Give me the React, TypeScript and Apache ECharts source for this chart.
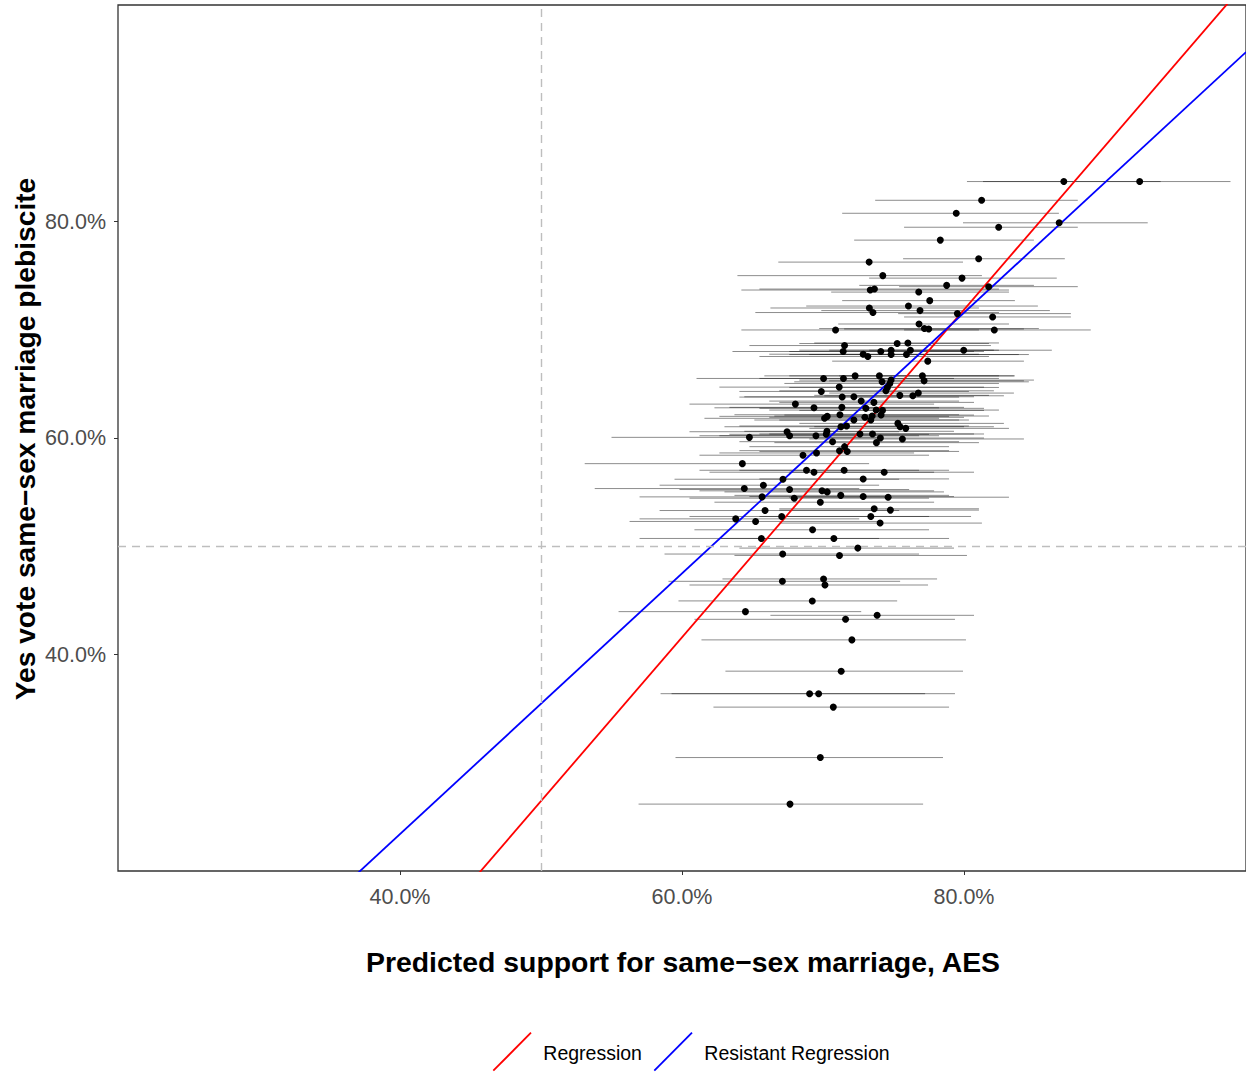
import React, { useEffect, useRef } from "react";
import * as echarts from "echarts";

// Predicted support (AES) point estimates, %
const pointX = [87.08, 92.46, 81.25, 79.45, 82.46, 86.75, 78.32, 73.27, 81.04, 74.24, 79.86, 78.77, 81.75, 73.35, 73.65, 76.79, 77.57, 76.06, 73.29, 73.54, 76.88, 79.53, 82.03, 70.89, 76.81, 77.19, 77.5, 82.15, 76.02, 75.26, 71.53, 71.43, 72.85, 73.18, 74.1, 74.83, 74.83, 75.92, 76.2, 79.98, 77.43, 70.04, 71.45, 72.28, 74.0, 74.19, 74.83, 74.74, 77.05, 77.17, 69.88, 71.15, 74.57, 74.46, 71.36, 72.19, 75.45, 76.37, 76.76, 72.71, 68.04, 69.36, 71.34, 73.04, 73.61, 73.77, 74.22, 74.12, 70.3, 70.11, 71.2, 72.97, 73.49, 72.19, 73.39, 75.31, 75.47, 75.87, 71.67, 71.27, 72.62, 73.51, 74.07, 73.79, 75.63, 64.78, 67.45, 67.63, 69.5, 70.23, 70.28, 70.68, 68.58, 69.54, 71.17, 71.53, 71.72, 64.28, 68.83, 69.36, 71.5, 74.34, 72.85, 67.16, 65.77, 64.42, 65.68, 67.63, 67.96, 69.93, 70.3, 71.26, 72.85, 74.62, 69.81, 65.89, 63.81, 65.22, 67.07, 69.26, 70.77, 65.63, 67.14, 73.63, 74.78, 73.39, 74.05, 72.47, 71.17, 67.12, 70.04, 70.14, 69.24, 64.5, 73.84, 71.6, 72.05, 71.29, 69.05, 69.69, 70.73, 69.81, 67.66];
// Yes vote in plebiscite, %
const pointY = [83.69, 83.69, 81.96, 80.76, 79.47, 79.88, 78.28, 76.25, 76.56, 75.0, 74.77, 74.1, 73.98, 73.67, 73.76, 73.48, 72.69, 72.19, 72.01, 71.59, 71.77, 71.49, 71.18, 69.98, 70.53, 70.11, 70.07, 69.98, 68.78, 68.73, 68.54, 67.99, 67.74, 67.53, 67.99, 68.11, 67.71, 67.71, 68.11, 68.11, 67.1, 65.5, 65.5, 65.74, 65.74, 65.19, 65.35, 65.04, 65.74, 65.28, 64.3, 64.7, 64.67, 64.36, 63.78, 63.81, 63.94, 63.9, 64.15, 63.41, 63.13, 62.79, 62.83, 62.74, 63.29, 62.58, 62.55, 62.12, 62.0, 61.82, 62.15, 61.91, 62.03, 61.66, 61.66, 61.35, 61.04, 60.89, 61.11, 61.04, 60.37, 60.37, 60.0, 59.57, 59.91, 60.06, 60.58, 60.21, 60.21, 60.34, 60.62, 59.66, 58.41, 58.62, 58.83, 59.2, 58.76, 57.63, 57.02, 56.84, 57.02, 56.84, 56.22, 56.19, 55.64, 55.33, 54.56, 55.24, 54.44, 55.12, 55.02, 54.7, 54.59, 54.53, 54.07, 53.3, 52.53, 52.29, 52.75, 51.52, 50.72, 50.72, 49.28, 53.46, 53.34, 52.75, 52.14, 49.83, 49.15, 46.76, 46.98, 46.42, 44.95, 43.96, 43.62, 43.25, 41.35, 38.46, 36.38, 36.38, 35.14, 30.48, 26.18];
// Lower and upper interval bounds of the prediction, %
const lowerCI = [80.21, 81.35, 73.7, 71.36, 75.75, 79.93, 72.21, 66.83, 75.68, 63.93, 73.27, 72.57, 75.4, 64.21, 65.49, 70.58, 71.36, 68.81, 66.27, 65.2, 69.88, 75.33, 75.75, 64.21, 71.08, 69.73, 71.5, 75.75, 69.38, 68.32, 64.78, 63.58, 66.19, 65.49, 67.61, 68.32, 67.61, 69.03, 70.44, 73.27, 70.65, 61.03, 65.49, 65.84, 67.61, 67.96, 68.32, 67.26, 71.15, 70.44, 64.07, 62.65, 67.61, 66.9, 64.07, 64.42, 69.38, 70.09, 70.44, 66.19, 60.53, 62.3, 63.36, 65.49, 66.9, 66.19, 68.32, 67.26, 62.65, 61.59, 63.72, 66.19, 66.55, 65.13, 66.9, 68.32, 69.38, 69.03, 64.07, 63.01, 65.49, 66.19, 67.61, 66.55, 69.03, 55.0, 60.53, 61.24, 62.65, 63.36, 64.42, 64.07, 61.24, 62.65, 64.07, 64.78, 65.49, 53.1, 61.24, 61.95, 64.07, 67.61, 65.49, 59.47, 58.41, 53.81, 56.99, 59.82, 60.53, 61.24, 63.01, 63.72, 64.78, 67.61, 62.3, 58.41, 56.99, 56.28, 60.53, 60.88, 62.65, 56.99, 58.76, 66.9, 66.9, 65.49, 66.9, 64.07, 63.72, 59.04, 62.87, 60.53, 59.75, 55.5, 66.27, 60.88, 61.38, 63.08, 58.48, 59.26, 62.23, 59.54, 56.92];
const upperCI = [93.95, 98.9, 88.07, 86.73, 88.07, 93.03, 84.96, 79.93, 87.15, 81.27, 86.58, 84.96, 88.07, 83.19, 82.48, 83.19, 83.61, 85.24, 81.06, 82.48, 86.09, 87.58, 87.58, 81.06, 83.19, 85.31, 84.25, 88.99, 82.48, 81.77, 81.91, 80.71, 81.06, 81.77, 81.42, 82.48, 83.89, 84.6, 82.12, 86.23, 84.25, 79.29, 82.48, 82.48, 83.54, 84.6, 84.96, 82.48, 83.61, 84.25, 80.35, 81.42, 82.48, 82.12, 79.65, 80.71, 81.77, 82.83, 83.54, 79.65, 77.88, 78.23, 80.0, 81.42, 80.71, 82.48, 81.42, 80.71, 78.94, 78.23, 79.65, 80.0, 81.77, 80.35, 79.65, 82.83, 82.12, 83.19, 80.35, 80.0, 81.42, 80.71, 81.42, 81.06, 84.25, 73.98, 75.4, 76.81, 78.23, 77.52, 79.29, 79.65, 77.52, 76.46, 78.94, 78.94, 79.65, 73.27, 76.81, 77.88, 78.94, 80.71, 78.94, 75.4, 73.98, 72.57, 74.69, 76.11, 77.52, 77.88, 78.58, 78.94, 79.29, 83.19, 77.88, 75.4, 72.57, 73.98, 77.52, 77.52, 78.94, 73.98, 76.81, 81.06, 81.06, 80.5, 81.27, 79.29, 80.21, 75.47, 78.09, 77.45, 75.26, 72.71, 80.71, 79.36, 80.14, 79.93, 79.36, 77.24, 78.94, 78.51, 77.1];

// Fitted lines: [intercept, slope]
const regressionFit = [-49.19, 1.513];
const resistantFit = [-24.75, 1.204];
const lineNames = ["Regression", "Resistant Regression"];
const lineColors = ["#FF0000", "#0000FF"];
const axisMin = 20;
const axisMax = 100;
const tickValues = [40, 60, 80];
const threshold = 50;

const FONT = "'Liberation Sans', Arial, Helvetica, sans-serif";

export default function App() {
  const ref = useRef<HTMLDivElement>(null);
  useEffect(() => {
    if (!ref.current) return;
    const chart = echarts.init(ref.current, null, { renderer: "svg" });
    const pts = pointX.map((x, i) => [x, pointY[i], lowerCI[i], upperCI[i]]);
    const fitLine = (f: number[]) => [
      [axisMin, f[0] + f[1] * axisMin],
      [axisMax, f[0] + f[1] * axisMax],
    ];
    const fmt = (v: number) => v.toFixed(1) + "%";
    const axisCommon = {
      type: "value",
      min: axisMin,
      max: axisMax,
      interval: 20,
      axisLine: { show: false },
      splitLine: { show: false },
      axisTick: {
        show: true,
        length: 4,
        customValues: tickValues,
        lineStyle: { color: "#333333", width: 1 },
      },
      axisLabel: {
        show: true,
        customValues: tickValues,
        formatter: fmt,
        color: "#4D4D4D",
        fontSize: 21.5,
        fontFamily: FONT,
        margin: 15,
      },
    };
    chart.setOption({
      animation: false,
      backgroundColor: "#ffffff",
      grid: {
        left: 118,
        top: 5,
        right: -2,
        bottom: 202,
        show: true,
        borderColor: "#333333",
        borderWidth: 1.3,
        backgroundColor: "transparent",
      },
      xAxis: { ...axisCommon },
      yAxis: { ...axisCommon, axisLabel: { ...axisCommon.axisLabel, margin: 12 } },
      series: [
        {
          type: "custom",
          name: "intervals",
          data: pts,
          encode: { x: [2, 3], y: 1 },
          clip: true,
          silent: true,
          z: 2,
          renderItem: (params: any, api: any) => {
            const y = api.value(1);
            const p1 = api.coord([api.value(2), y]);
            const p2 = api.coord([api.value(3), y]);
            return {
              type: "line",
              shape: { x1: p1[0], y1: p1[1], x2: p2[0], y2: p2[1] },
              style: { stroke: "rgba(0,0,0,0.45)", lineWidth: 1 },
            };
          },
          markLine: {
            silent: true,
            symbol: "none",
            label: { show: false },
            lineStyle: { color: "#BEBEBE", type: [8, 6], width: 1.4 },
            data: [{ xAxis: threshold }, { yAxis: threshold }],
          },
        },
        {
          type: "line",
          name: lineNames[0],
          data: fitLine(regressionFit),
          showSymbol: false,
          symbol: "none",
          clip: true,
          lineStyle: { color: lineColors[0], width: 1.8 },
          z: 4,
        },
        {
          type: "line",
          name: lineNames[1],
          data: fitLine(resistantFit),
          showSymbol: false,
          symbol: "none",
          clip: true,
          lineStyle: { color: lineColors[1], width: 1.8 },
          z: 4,
        },
        {
          type: "scatter",
          name: "points",
          data: pts.map((p) => [p[0], p[1]]),
          symbol: "circle",
          symbolSize: 7,
          itemStyle: { color: "#000000", opacity: 1 },
          z: 5,
        },
      ],
      graphic: [
        {
          type: "text",
          x: 683,
          y: 962,
          style: {
            text: "Predicted support for same\u2212sex marriage, AES",
            fill: "#000000",
            font: `bold 28.4px ${FONT}`,
            textAlign: "center",
            textVerticalAlign: "middle",
          },
        },
        {
          type: "text",
          x: 25,
          y: 439,
          rotation: Math.PI / 2,
          style: {
            text: "Yes vote same\u2212sex marriage plebiscite",
            fill: "#000000",
            font: `bold 28.2px ${FONT}`,
            textAlign: "center",
            textVerticalAlign: "middle",
          },
        },
        {
          type: "line",
          shape: { x1: 493.3, y1: 1070.7, x2: 531, y2: 1032.7 },
          style: { stroke: lineColors[0], lineWidth: 1.8 },
        },
        {
          type: "text",
          x: 543.3,
          y: 1053,
          style: {
            text: lineNames[0],
            fill: "#000000",
            font: `19.5px ${FONT}`,
            textAlign: "left",
            textVerticalAlign: "middle",
          },
        },
        {
          type: "line",
          shape: { x1: 654.3, y1: 1070.7, x2: 692, y2: 1032.7 },
          style: { stroke: lineColors[1], lineWidth: 1.8 },
        },
        {
          type: "text",
          x: 704.3,
          y: 1053,
          style: {
            text: lineNames[1],
            fill: "#000000",
            font: `19.5px ${FONT}`,
            textAlign: "left",
            textVerticalAlign: "middle",
          },
        },
      ],
    });
    return () => chart.dispose();
  }, []);
  return (
    <div
      ref={ref}
      style={{ position: "absolute", left: 0, top: 0, width: 1246, height: 1073 }}
    />
  );
}
